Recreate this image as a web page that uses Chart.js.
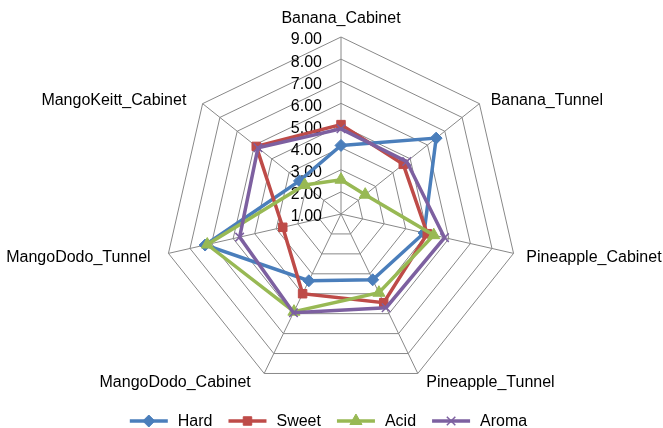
<!DOCTYPE html>
<html>
<head>
<meta charset="utf-8">
<script src="https://cdn.jsdelivr.net/npm/chart.js@4/dist/chart.umd.min.js"></script>
<style>
  html, body { margin: 0; padding: 0; background: #fff; }
  #wrap { width: 663px; height: 428px; }
</style>
</head>
<body>
<div id="wrap"><canvas id="radar" width="663" height="428"></canvas></div>
<script>
// Chart data
const categories = ['Banana_Cabinet', 'Banana_Tunnel', 'Pineapple_Cabinet', 'Pineapple_Tunnel',
                    'MangoDodo_Cabinet', 'MangoDodo_Tunnel', 'MangoKeitt_Cabinet'];
const hard  = [4.10, 6.50, 4.85, 4.30, 4.35, 7.30, 3.40];
const sweet = [5.04, 4.60, 5.00, 5.45, 5.00, 3.70, 5.90];
const acid  = [2.55, 2.40, 5.30, 4.95, 5.90, 7.20, 3.10];
const aroma = [4.85, 4.80, 5.80, 5.70, 5.95, 5.70, 5.80];
const tickValues = [1, 2, 3, 4, 5, 6, 7, 8, 9];

const FONT = '16px "Liberation Sans", Arial, Helvetica, sans-serif';

function series(label, data, color, style, radius, order) {
    return {
        label: label,
        data: data,
        borderColor: color,
        backgroundColor: color,
        borderWidth: 3.5,
        fill: false,
        pointStyle: style,
        pointRadius: radius,
        pointHoverRadius: radius,
        pointBackgroundColor: color,
        pointBorderColor: color,
        pointBorderWidth: style === 'crossRot' ? 1.5 : 1,
        order: order
    };
}

// value labels + category labels + legend, Excel style
const excelDecor = {
    id: 'excelDecor',
    beforeDatasetsDraw(chart) {
        const ctx = chart.ctx;
        const r = chart.scales.r;
        ctx.save();
        ctx.font = FONT;
        ctx.fillStyle = '#000';
        ctx.textAlign = 'right';
        ctx.textBaseline = 'middle';
        tickValues.forEach(v => {
            const d = r.getDistanceFromCenterForValue(v);
            ctx.fillText(v.toFixed(2), r.xCenter - 19, r.yCenter - d + 3);
        });

        categories.forEach((name, i) => {
            const p = r.getPointPosition(i, r.drawingArea + 8);
            let align = 'center';
            let x = p.x, y = p.y;
            if (p.x > r.xCenter + 5) { align = 'left'; x += 5; }
            else if (p.x < r.xCenter - 5) { align = 'right'; x -= 10; }
            ctx.textAlign = align;
            if (i === 0) {
                ctx.textBaseline = 'bottom';
                y -= 2;
            } else {
                ctx.textBaseline = 'middle';
                y += 2;
            }
            ctx.fillText(name, x, y);
        });
        ctx.restore();
    },
    afterDraw(chart) {
        const ctx = chart.ctx;
        const sets = chart.data.datasets;
        const lineLen = 38, gapText = 10, gapItem = 16;
        ctx.save();
        ctx.font = FONT;
        let total = 0;
        sets.forEach((ds, i) => {
            total += lineLen + gapText + ctx.measureText(ds.label).width;
            if (i < sets.length - 1) total += gapItem;
        });
        let x = (chart.width - total) / 2 - 3;
        const y = 421;
        sets.forEach(ds => {
            ctx.strokeStyle = ds.borderColor;
            ctx.lineWidth = ds.borderWidth;
            ctx.beginPath();
            ctx.moveTo(x, y);
            ctx.lineTo(x + lineLen, y);
            ctx.stroke();
            // marker in the middle of the legend line
            ctx.lineWidth = ds.pointBorderWidth;
            ctx.fillStyle = ds.borderColor;
            Chart.helpers.drawPoint(ctx, {
                pointStyle: ds.pointStyle,
                radius: ds.pointRadius,
                rotation: 0,
                borderWidth: ds.pointBorderWidth
            }, x + lineLen / 2, y);
            ctx.fillStyle = '#000';
            ctx.textAlign = 'left';
            ctx.textBaseline = 'middle';
            const tx = x + lineLen + gapText;
            ctx.fillText(ds.label, tx, y + 1);
            x = tx + ctx.measureText(ds.label).width + gapItem;
        });
        ctx.restore();
    }
};

new Chart(document.getElementById('radar').getContext('2d'), {
    type: 'radar',
    data: {
        labels: categories,
        datasets: [
            series('Hard', hard, '#4a7ebb', 'rectRot', 6, 3),
            series('Sweet', sweet, '#be4b48', 'rect', 6, 2),
            series('Acid', acid, '#98b954', 'triangle', 7, 1),
            series('Aroma', aroma, '#7d60a0', 'crossRot', 6, 0)
        ]
    },
    options: {
        responsive: false,
        animation: false,
        events: [],
        layout: { padding: { top: 37, bottom: 37, left: 19, right: 0 } },
        elements: { line: { tension: 0 } },
        plugins: {
            legend: { display: false },
            tooltip: { enabled: false }
        },
        scales: {
            r: {
                min: tickValues[0],
                max: tickValues[tickValues.length - 1],
                ticks: { stepSize: 1, display: false },
                pointLabels: { display: false },
                grid: { color: '#888888', lineWidth: 1 },
                angleLines: { color: '#888888', lineWidth: 1 }
            }
        }
    },
    plugins: [excelDecor]
});
</script>
</body>
</html>
